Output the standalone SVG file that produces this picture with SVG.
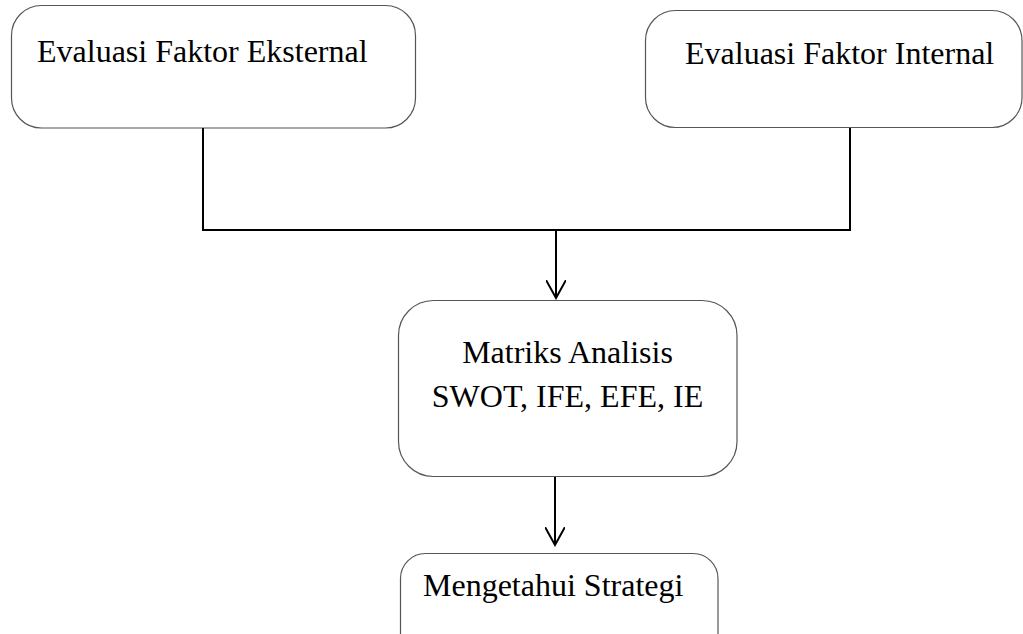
<svg xmlns="http://www.w3.org/2000/svg" width="1023" height="634" viewBox="0 0 1023 634">
<style>
.box{fill:#fff;stroke:#555;stroke-width:1.2}
.t{font-family:"Liberation Serif",serif;font-size:32px;fill:#000}
.c{fill:none;stroke:#000;stroke-width:2}
</style>
<defs>
<marker id="arr" viewBox="0 0 20 20" refX="18" refY="10" markerWidth="20" markerHeight="20" markerUnits="userSpaceOnUse" orient="auto">
<path d="M0,0 L18,10 L0,20" fill="none" stroke="#000" stroke-width="2"/>
</marker>
</defs>
<rect width="1023" height="634" fill="#fff"/>
<g id="n1"><rect class="box" x="11.5" y="5.5" width="404" height="122.5" rx="30"/><text class="t" x="37" y="62">Evaluasi Faktor Eksternal</text></g>
<g id="n2"><rect class="box" x="645.5" y="10.5" width="376.5" height="117" rx="30"/><text class="t" x="685" y="64">Evaluasi Faktor Internal</text></g>
<g id="n3"><rect class="box" x="398.5" y="300.5" width="338.5" height="176" rx="35"/><text class="t" x="567.5" y="363" text-anchor="middle">Matriks Analisis</text><text class="t" x="567.5" y="407" text-anchor="middle">SWOT, IFE, EFE, IE</text></g>
<g id="n4"><rect class="box" x="400.5" y="553.5" width="317.5" height="110" rx="25"/><text class="t" x="423" y="596">Mengetahui Strategi</text></g>
<g id="connectors">
<polyline class="c" points="203,128 203,230 850,230 850,128"/>
<line class="c" x1="556" y1="230" x2="556" y2="298" marker-end="url(#arr)"/>
<line class="c" x1="555" y1="477" x2="555" y2="545" marker-end="url(#arr)"/>
</g>
</svg>
